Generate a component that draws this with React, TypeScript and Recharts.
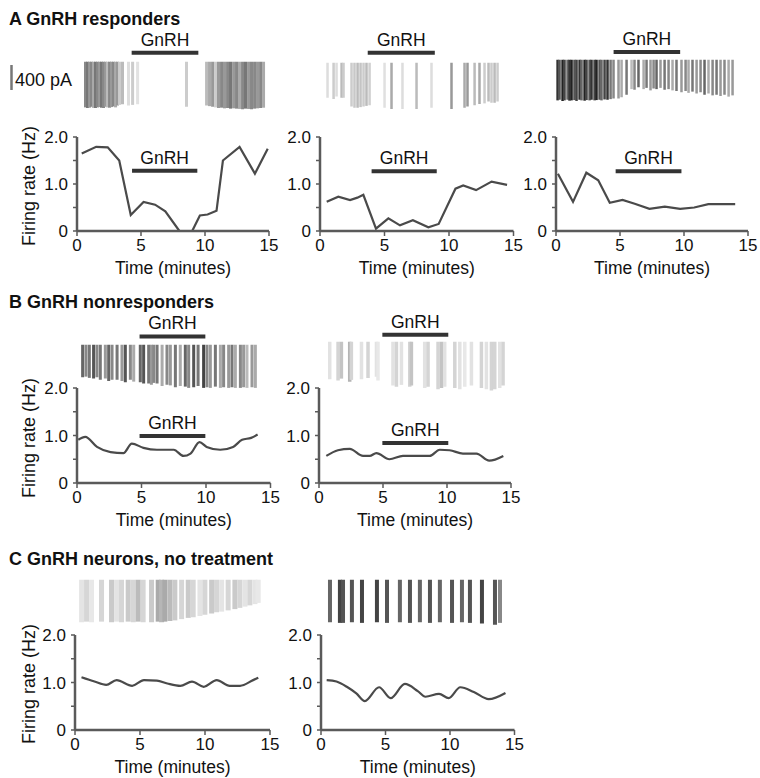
import React from 'react';
import { LineChart, Line, XAxis, YAxis, ReferenceLine, BarChart, Bar, Cell } from 'recharts';

const FONT = '"Liberation Sans", Arial, Helvetica, sans-serif';

// ---------- firing-rate traces (time in minutes, rate in Hz) ----------
const a1Time = [0.37, 1.5, 2.4, 3.3, 4.2, 5.2, 6.1, 6.9, 8.0, 9.0, 9.6, 10.2, 10.9, 11.4, 12.7, 13.9, 14.9];
const a1Rate = [1.65, 1.79, 1.78, 1.5, 0.34, 0.62, 0.56, 0.42, 0, 0, 0.33, 0.35, 0.43, 1.5, 1.79, 1.22, 1.75];

const a2Time = [0.52, 1.42, 2.33, 2.9, 3.36, 4.34, 5.3, 6.2, 7.2, 8.4, 9.2, 10.5, 11.1, 12.1, 13.3, 14.5];
const a2Rate = [0.62, 0.73, 0.66, 0.71, 0.77, 0.05, 0.27, 0.12, 0.23, 0.08, 0.15, 0.9, 0.97, 0.87, 1.05, 0.98];

const a3Time = [0.15, 1.33, 2.37, 3.3, 4.2, 5.2, 6.15, 7.3, 8.5, 9.7, 10.8, 11.9, 14.0];
const a3Rate = [1.22, 0.62, 1.24, 1.08, 0.6, 0.66, 0.58, 0.47, 0.52, 0.47, 0.5, 0.57, 0.57];

const b1Time = [0.1, 0.64, 1.55, 2.6, 3.6, 4.25, 5.15, 6.2, 7.5, 8.25, 8.8, 9.5, 10.05, 11.1, 12.1, 12.8, 13.5, 14.0];
const b1Rate = [0.91, 0.97, 0.76, 0.65, 0.63, 0.83, 0.74, 0.7, 0.7, 0.57, 0.62, 0.86, 0.76, 0.7, 0.76, 0.91, 0.95, 1.02];

const b2Time = [0.57, 1.48, 2.4, 3.44, 3.96, 4.48, 5.5, 6.56, 8.65, 9.43, 10.2, 11.25, 12.3, 13.3, 14.4];
const b2Rate = [0.57, 0.69, 0.72, 0.57, 0.57, 0.63, 0.5, 0.57, 0.57, 0.7, 0.69, 0.62, 0.62, 0.47, 0.57];

const c1Time = [0.5, 1.5, 2.4, 3.2, 4.4, 5.3, 6.3, 7.1, 8.1, 9.0, 9.9, 10.9, 11.9, 12.7, 13.7, 14.1];
const c1Rate = [1.11, 1.02, 0.95, 1.05, 0.93, 1.05, 1.04, 0.98, 0.93, 1.02, 0.91, 1.05, 0.93, 0.93, 1.05, 1.1];

const c2Time = [0.44, 1.2, 2.0, 2.74, 3.4, 4.5, 5.4, 6.5, 7.5, 8.1, 9.15, 9.9, 10.8, 11.85, 13.0, 14.3];
const c2Rate = [1.05, 1.02, 0.91, 0.77, 0.61, 0.9, 0.67, 0.97, 0.82, 0.7, 0.76, 0.67, 0.9, 0.8, 0.65, 0.78];

// ---------- GnRH application windows (minutes) ----------
const a1Gnrh = [4.3, 9.4];
const a1GnrhTop = [4.27, 9.48];
const a2Gnrh = [4.0, 9.05];
const a2GnrhTop = [3.7, 8.9];
const a3Gnrh = [4.66, 9.8];
const a3GnrhTop = [4.5, 9.7];
const b1Gnrh = [4.85, 9.95];
const b1GnrhTop = [4.85, 9.95];
const b2Gnrh = [4.95, 10.1];
const b2GnrhTop = [4.95, 10.1];

// ---------- spike trains: time (min), amplitude (pA) ----------
const a1SpikeTime = [0.70, 0.86, 1.02, 1.17, 1.33, 1.48, 1.64, 1.80, 1.95, 2.11, 2.27, 2.42, 2.58, 2.73, 2.89, 3.05, 3.20, 3.36, 3.59,
  4.06, 4.38, 4.77, 8.59,
  10.16, 10.39, 10.63, 10.86, 11.09, 11.33, 11.56, 11.80, 12.03, 12.27, 12.50, 12.73, 12.97, 13.20, 13.44, 13.67, 13.91, 14.14, 14.38, 14.61];
const a1SpikeAmp = [730, 740, 735, 720, 738, 740, 730, 725, 735, 740, 720, 730, 735, 725, 715, 730, 700, 690, 680,
  700, 690, 680, 720,
  700, 710, 720, 730, 740, 735, 745, 740, 750, 745, 750, 755, 760, 750, 755, 760, 750, 745, 740, 735];
const a1SpikeShade = ['#888', '#777', '#999', '#888', '#aaa', '#777', '#888', '#999', '#777', '#888', '#999', '#bbb', '#888', '#999', '#888', '#aaa', '#999', '#ccc', '#bbb',
  '#ddd', '#ccc', '#e2e2e2', '#ccc',
  '#bbb', '#aaa', '#999', '#ccc', '#999', '#888', '#999', '#888', '#777', '#999', '#888', '#aaa', '#888', '#777', '#999', '#888', '#888', '#999', '#888', '#aaa'];

const a2SpikeTime = [0.62, 1.09, 1.32, 1.71, 1.86, 2.48, 2.71, 2.95, 3.18, 3.41, 3.64, 3.88, 5.04, 5.58, 6.43, 7.52, 8.68,
  10.23, 11.24, 11.47, 12.02, 12.40, 12.79, 13.10, 13.33, 13.57, 13.80];
const a2SpikeAmp = [560, 580, 540, 560, 560, 700, 720, 720, 710, 700, 690, 680, 720, 740, 740, 740, 720,
  740, 720, 700, 680, 660, 650, 620, 640, 640, 620];
const a2SpikeShade = ['#ddd', '#ccc', '#ddd', '#bbb', '#ccc', '#ccc', '#c8c8c8', '#bbb', '#c4c4c4', '#ccc', '#bbb', '#d0d0d0',
  '#e0e0e0', '#aaa', '#ddd', '#bbb', '#ddd', '#999', '#aaa', '#999', '#bbb', '#aaa', '#ccc', '#bbb', '#ccc', '#bbb', '#ccc'];

const a3SpikeTime = [0.16, 0.31, 0.55, 0.70, 0.94, 1.09, 1.25, 1.48, 1.64, 1.88, 2.03, 2.27, 2.42, 2.66, 2.81, 3.05, 3.20, 3.44, 3.59, 3.83, 4.06, 4.30, 4.53,
  4.92, 5.16, 5.55, 5.94, 6.17, 6.48, 6.88, 7.11, 7.42, 7.66, 7.89, 8.20, 8.52, 8.83, 9.14, 9.45, 9.84, 10.16, 10.39, 10.70, 11.02, 11.33, 11.64, 11.95, 12.27, 12.58, 12.89, 13.20, 13.52, 13.83];
const a3SpikeAmp = [650, 640, 660, 650, 640, 655, 650, 645, 660, 640, 650, 655, 645, 650, 640, 650, 645, 640, 650, 635, 640, 630, 620,
  620, 600, 560, 470, 480, 440, 470, 450, 490, 460, 470, 450, 480, 470, 490, 500, 520, 500, 530, 510, 540, 520, 560, 540, 570, 560, 580, 560, 590, 570];
const a3SpikeShade = ['#333', '#555', '#222', '#444', '#666', '#333', '#222', '#555', '#444', '#333', '#666', '#222', '#444', '#555', '#333', '#444', '#222', '#555', '#666', '#444', '#333', '#777', '#888',
  '#999', '#aaa', '#777', '#bbb', '#888', '#666', '#aaa', '#777', '#999', '#888', '#666', '#999', '#777', '#888', '#aaa', '#777', '#999', '#888', '#aaa', '#777', '#999', '#888', '#666', '#aaa', '#888', '#777', '#999', '#888', '#aaa', '#999'];

const b1SpikeTime = [0.41, 0.67, 0.93, 1.26, 1.52, 1.78, 2.17, 2.43, 2.69, 3.08, 3.46, 3.72, 4.11, 4.37, 4.88, 5.14, 5.53, 5.74, 5.92, 6.18,
  6.57, 6.95, 7.21, 7.6, 7.98, 8.37, 8.63, 9.02, 9.36, 9.79, 10.05, 10.31, 10.7, 11.09, 11.34, 11.73, 11.99, 12.25, 12.64, 12.89, 13.15, 13.54, 13.8];
const b1SpikeAmp = [520, 510, 530, 540, 520, 560, 540, 580, 560, 560, 580, 600, 560, 590, 600, 620, 620, 640, 610, 620,
  660, 640, 650, 680, 660, 670, 690, 680, 660, 690, 680, 690, 670, 690, 680, 690, 680, 690, 690, 680, 690, 680, 690];
const b1SpikeShade = ['#666', '#888', '#777', '#555', '#888', '#777', '#999', '#666', '#888', '#777',
  '#999', '#555', '#888', '#aaa', '#666', '#555', '#777', '#999', '#888', '#777',
  '#aaa', '#888', '#999', '#777', '#aaa', '#666', '#888', '#555', '#777', '#444',
  '#888', '#999', '#777', '#aaa', '#888', '#999', '#777', '#aaa', '#888', '#999', '#bbb', '#999', '#aaa'];

const b2SpikeTime = [0.86, 1.51, 1.77, 2.42, 2.55, 3.34, 3.85, 4.51, 4.63, 5.8, 6.07, 6.46, 7.11, 7.24, 8.28, 8.54, 9.32, 9.59, 9.84, 10.63,
  11.02, 11.41, 11.93, 12.71, 13.1, 13.49, 13.75, 14.14, 14.4];
const b2SpikeAmp = [600, 620, 590, 640, 610, 600, 580, 560, 620, 700, 720, 690, 720, 700, 740, 720, 760, 740, 720, 740,
  760, 720, 700, 740, 760, 780, 760, 740, 700];
const b2SpikeShade = ['#e2e2e2', '#d4d4d4', '#c4c4c4', '#b4b4b4', '#d4d4d4', '#e2e2e2', '#d4d4d4', '#e2e2e2', '#e8e8e8', '#e2e2e2',
  '#d4d4d4', '#e2e2e2', '#d4d4d4', '#c4c4c4', '#e2e2e2', '#d4d4d4', '#d4d4d4', '#c4c4c4', '#e2e2e2', '#d4d4d4',
  '#e2e2e2', '#e8e8e8', '#e2e2e2', '#d4d4d4', '#e2e2e2', '#d4d4d4', '#d4d4d4', '#e2e2e2', '#d4d4d4'];

const c1SpikeTime = [0.52, 0.9, 1.28, 2.05, 2.82, 3.21, 3.59, 4.1, 4.49, 4.87, 5.25, 5.9, 6.41, 6.67, 6.92, 7.31, 7.69, 8.21, 8.72, 9.1,
  9.62, 10.0, 10.52, 10.9, 11.29, 11.79, 12.31, 12.69, 13.08, 13.46, 13.85, 14.1];
const c1SpikeAmp = [680, 670, 680, 670, 680, 670, 680, 670, 680, 670, 680, 680, 670, 680, 670, 660, 650, 630, 610, 600,
  580, 560, 540, 520, 510, 490, 470, 450, 430, 410, 390, 370];
const c1SpikeShade = ['#e4e4e4', '#d6d6d6', '#e8e8e8', '#d6d6d6', '#cacaca', '#e4e4e4', '#d6d6d6', '#cacaca', '#d6d6d6', '#bbb',
  '#d6d6d6', '#cacaca', '#aaa', '#b6b6b6', '#aaa', '#bbb', '#cacaca', '#d6d6d6', '#cacaca', '#d6d6d6',
  '#e4e4e4', '#d6d6d6', '#cacaca', '#d6d6d6', '#e4e4e4', '#d6d6d6', '#cacaca', '#d6d6d6', '#e4e4e4', '#d6d6d6', '#e4e4e4', '#e8e8e8'];

const c2SpikeTime = [0.7, 1.47, 1.71, 2.4, 3.18, 4.34, 5.12, 6.12, 6.9, 7.67, 8.45, 9.22, 10.16, 10.93, 11.55, 12.48, 13.49, 13.88];
const c2SpikeAmp = [680, 690, 690, 680, 690, 680, 690, 680, 690, 680, 690, 680, 690, 680, 690, 700, 720, 690];
const c2SpikeShade = ['#666', '#444', '#555', '#555', '#444', '#444', '#555', '#666', '#555', '#666', '#555', '#666', '#555', '#666', '#555', '#444', '#555', '#888'];

// ---------- layout constants ----------
const YW = 45;
const RP = 12;
const TP = 12;
const XH = 50;
const SPAD = 16;
const SPIKE_H = 80;
const SPIKE_DOMAIN: [number, number] = [-900, 380];
const X_TICKS = [0, 5, 10, 15];
const Y_TICKS = [0, 0.5, 1, 1.5, 2];
const AXIS = '#5a5a5a';

const yFmt = (v: number) => (v === 0 ? '0' : v === 1 ? '1.0' : v === 2 ? '2.0' : '');

function RateChart(props: {
  x0: number; y2: number; plotH: number; ppm: number;
  time: number[]; rate: number[]; gnrh?: number[]; gnrhLevel?: number; curve: 'linear' | 'monotone';
}) {
  const { x0, y2, plotH, ppm, time, rate, gnrh, gnrhLevel, curve } = props;
  const data = time.map((t, i) => ({ t, v: rate[i] }));
  const W = YW + 15 * ppm + RP;
  const H = TP + plotH + XH;
  return (
    <div style={{ position: 'absolute', left: x0 - YW, top: y2 - TP }}>
      <LineChart width={W} height={H} data={data} margin={{ top: TP, right: RP, left: 0, bottom: 0 }}>
        <XAxis
          type="number" dataKey="t" domain={[0, 15]} ticks={X_TICKS} height={XH} allowDataOverflow
          axisLine={{ stroke: AXIS, strokeWidth: 2.5 }} tickLine={{ stroke: AXIS, strokeWidth: 1.5 }}
          tickSize={5} tickMargin={3}
          tick={{ fill: '#111', fontSize: 17, fontFamily: FONT }}
          label={{ value: 'Time (minutes)', position: 'insideBottom', offset: 7, fill: '#111', fontSize: 17.5, fontFamily: FONT }}
        />
        <YAxis
          type="number" domain={[0, 2]} ticks={Y_TICKS} width={YW} allowDataOverflow
          axisLine={{ stroke: AXIS, strokeWidth: 2.5 }} tickLine={{ stroke: AXIS, strokeWidth: 1.5 }}
          tickSize={4} tickMargin={5} tickFormatter={yFmt}
          tick={{ fill: '#111', fontSize: 17, fontFamily: FONT }}
        />
        {gnrh && gnrhLevel !== undefined && (
          <ReferenceLine
            segment={[{ x: gnrh[0], y: gnrhLevel }, { x: gnrh[1], y: gnrhLevel }]}
            stroke="#333" strokeWidth={4}
            label={{ value: 'GnRH', position: 'top', offset: 7, fill: '#111', fontSize: 17.5, fontFamily: FONT }}
          />
        )}
        <Line dataKey="v" type={curve} stroke="#4a4a4a" strokeWidth={2.2} dot={false} isAnimationActive={false} />
      </LineChart>
    </div>
  );
}

function SpikeChart(props: {
  x0: number; zeroY: number; ppm: number; time: number[]; amp: number[]; shade: string[]; barW: number;
  gnrh?: number[]; gnrhLevel?: number;
}) {
  const { x0, zeroY, ppm, time, amp, shade, barW, gnrh, gnrhLevel } = props;
  const data = time.map((t, i) => ({ t, range: [-amp[i], 0] }));
  const W = YW + 15 * ppm + RP;
  const zeroOffset = (SPIKE_DOMAIN[1] / (SPIKE_DOMAIN[1] - SPIKE_DOMAIN[0])) * SPIKE_H;
  const spikeShape = (p: any) => {
    const cx = p.x + p.width / 2;
    return <rect x={cx - barW / 2} y={p.y} width={barW} height={p.height} fill={p.fill} />;
  };
  return (
    <div style={{ position: 'absolute', left: x0 - YW, top: zeroY - zeroOffset - SPAD }}>
      <BarChart width={W} height={SPAD + SPIKE_H} data={data} margin={{ top: SPAD, right: RP, left: YW, bottom: 0 }}>
        <XAxis type="number" dataKey="t" domain={[0, 15]} hide allowDataOverflow />
        <YAxis type="number" domain={SPIKE_DOMAIN} hide allowDataOverflow />
        <Bar dataKey="range" barSize={1} shape={spikeShape} isAnimationActive={false}>
          {data.map((d, i) => (
            <Cell key={i} fill={shade[i]} />
          ))}
        </Bar>
        {gnrh && gnrhLevel !== undefined && (
          <ReferenceLine
            segment={[{ x: gnrh[0], y: gnrhLevel }, { x: gnrh[1], y: gnrhLevel }]}
            stroke="#333" strokeWidth={4}
            label={{ value: 'GnRH', position: 'top', offset: 7, fill: '#111', fontSize: 17.5, fontFamily: FONT }}
          />
        )}
      </BarChart>
    </div>
  );
}

export default function App() {
  const titleStyle = { fontFamily: FONT, fontWeight: 700, fontSize: 18, fill: '#111' } as const;
  const labelStyle = { fontFamily: FONT, fontSize: 18, fill: '#111' } as const;
  return (
    <div style={{ position: 'absolute', left: 0, top: 0, width: 760, height: 778, background: '#fff', overflow: 'hidden' }}>
      <svg width={760} height={778} style={{ position: 'absolute', left: 0, top: 0 }}>
        <text x={9} y={25} style={titleStyle}>A GnRH responders</text>
        <text x={9} y={308} style={titleStyle}>B GnRH nonresponders</text>
        <text x={9} y={565} style={titleStyle}>C GnRH neurons, no treatment</text>
        <text transform="translate(35,186) rotate(-90)" textAnchor="middle" style={labelStyle}>Firing rate (Hz)</text>
        <text transform="translate(35,438) rotate(-90)" textAnchor="middle" style={labelStyle}>Firing rate (Hz)</text>
        <text transform="translate(35,684) rotate(-90)" textAnchor="middle" style={labelStyle}>Firing rate (Hz)</text>
        <line x1={11.5} y1={65} x2={11.5} y2={90} stroke="#777" strokeWidth={2.5} />
        <text x={15} y={86} style={labelStyle}>400 pA</text>
      </svg>

      {/* A row */}
      <SpikeChart x0={77} zeroY={62} ppm={12.8} time={a1SpikeTime} amp={a1SpikeAmp} shade={a1SpikeShade} barW={3} gnrh={a1GnrhTop} gnrhLevel={144} />
      <SpikeChart x0={320} zeroY={63} ppm={12.9} time={a2SpikeTime} amp={a2SpikeAmp} shade={a2SpikeShade} barW={2.5} gnrh={a2GnrhTop} gnrhLevel={160} />
      <SpikeChart x0={556} zeroY={60} ppm={12.8} time={a3SpikeTime} amp={a3SpikeAmp} shade={a3SpikeShade} barW={2.5} gnrh={a3GnrhTop} gnrhLevel={123} />
      <RateChart x0={77} y2={137} plotH={94} ppm={12.8} time={a1Time} rate={a1Rate} gnrh={a1Gnrh} gnrhLevel={1.28} curve="linear" />
      <RateChart x0={320} y2={137} plotH={94} ppm={12.9} time={a2Time} rate={a2Rate} gnrh={a2Gnrh} gnrhLevel={1.27} curve="linear" />
      <RateChart x0={556} y2={137} plotH={94} ppm={12.8} time={a3Time} rate={a3Rate} gnrh={a3Gnrh} gnrhLevel={1.27} curve="linear" />

      {/* B row */}
      <SpikeChart x0={77} zeroY={345} ppm={12.9} time={b1SpikeTime} amp={b1SpikeAmp} shade={b1SpikeShade} barW={3} gnrh={b1GnrhTop} gnrhLevel={133} />
      <SpikeChart x0={319} zeroY={342} ppm={12.8} time={b2SpikeTime} amp={b2SpikeAmp} shade={b2SpikeShade} barW={3.5} gnrh={b2GnrhTop} gnrhLevel={112} />
      <RateChart x0={77} y2={388} plotH={95} ppm={12.9} time={b1Time} rate={b1Rate} gnrh={b1Gnrh} gnrhLevel={0.99} curve="monotone" />
      <RateChart x0={319} y2={388} plotH={95} ppm={12.8} time={b2Time} rate={b2Rate} gnrh={b2Gnrh} gnrhLevel={0.84} curve="monotone" />

      {/* C row */}
      <SpikeChart x0={75} zeroY={580} ppm={13} time={c1SpikeTime} amp={c1SpikeAmp} shade={c1SpikeShade} barW={5} />
      <SpikeChart x0={321} zeroY={580} ppm={12.9} time={c2SpikeTime} amp={c2SpikeAmp} shade={c2SpikeShade} barW={4} />
      <RateChart x0={75} y2={635} plotH={95} ppm={13} time={c1Time} rate={c1Rate} curve="monotone" />
      <RateChart x0={321} y2={635} plotH={95} ppm={12.9} time={c2Time} rate={c2Rate} curve="monotone" />
    </div>
  );
}
